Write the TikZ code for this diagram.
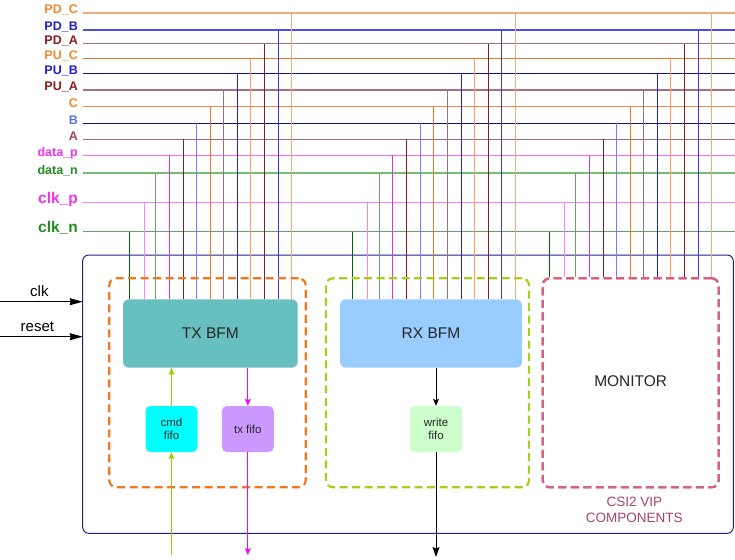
\documentclass[tikz,border=0pt]{standalone}
\usepackage{fontspec}
\setmainfont{Liberation Sans}
\usetikzlibrary{arrows.meta}
% label colours
\definecolor{lOr}{HTML}{EE8833}
\definecolor{lBl}{HTML}{2020CC}
\definecolor{lBlB}{HTML}{5577DD}
\definecolor{lRd}{HTML}{8B1A1A}
\definecolor{lA}{HTML}{994466}
\definecolor{lMg}{HTML}{EE33EE}
\definecolor{lGr}{HTML}{228B22}
% horizontal line colours
\definecolor{hPDC}{HTML}{F5A878}
\definecolor{hPDB}{HTML}{4D4DE0}
\definecolor{hPDA}{HTML}{A87080}
\definecolor{hPUC}{HTML}{E87830}
\definecolor{hPUB}{HTML}{10109A}
\definecolor{hPUA}{HTML}{A87080}
\definecolor{hC}{HTML}{F08848}
\definecolor{hB}{HTML}{10109A}
\definecolor{hA}{HTML}{A06878}
\definecolor{hdp}{HTML}{FF66FF}
\definecolor{hdn}{HTML}{77BB77}
\definecolor{hcp}{HTML}{FF80FF}
\definecolor{hcn}{HTML}{6AA06A}
% vertical line colours
\definecolor{vPDC}{HTML}{F5A878}
\definecolor{vPDB}{HTML}{3838E8}
\definecolor{vPDA}{HTML}{802020}
\definecolor{vPUC}{HTML}{FFA060}
\definecolor{vPUB}{HTML}{2020E0}
\definecolor{vPUA}{HTML}{A07070}
\definecolor{vC}{HTML}{EE7722}
\definecolor{vB}{HTML}{7878FF}
\definecolor{vA}{HTML}{802020}
\definecolor{vdp}{HTML}{DD33DD}
\definecolor{vdn}{HTML}{6AA06A}
\definecolor{vcp}{HTML}{FF80FF}
\definecolor{vcn}{HTML}{006400}
% boxes
\definecolor{txfill}{HTML}{67BFBF}
\definecolor{rxfill}{HTML}{99CCFF}
\definecolor{cmdfill}{HTML}{00FFFF}
\definecolor{txffill}{HTML}{CC99FF}
\definecolor{wrfill}{HTML}{CCFFCC}
\definecolor{txdash}{HTML}{F07820}
\definecolor{rxdash}{HTML}{A8CC20}
\definecolor{mondash}{HTML}{D86080}
\definecolor{outer}{HTML}{20208A}
\definecolor{vip}{HTML}{A8436E}
\definecolor{cmdarrow}{HTML}{99CC00}
\definecolor{txfarrow}{HTML}{FF00FF}
\tikzset{
  siglabel/.style={anchor=base east, inner sep=0pt},
  sigline/.style={line width=1.2pt},
  vline/.style={line width=1pt},
  bfm/.style={rectangle, rounded corners=6pt, draw=none, inner sep=0pt,
    font=\fontsize{15.5}{18}\selectfont, text=black!85},
  fifo/.style={rectangle, rounded corners=5pt, draw=none, inner sep=0pt,
    minimum width=52pt, minimum height=46pt, align=center,
    font=\fontsize{11.5}{14}\selectfont, text=black!85},
  group/.style={rectangle, rounded corners=7pt, line width=2.2pt,
    dash pattern=on 8pt off 4.5pt, inner sep=0pt, minimum height=209pt},
  smallarrow/.style={-{Stealth[length=7pt,width=6pt,inset=1.5pt]}, line width=1pt},
  inarrow/.style={-{Stealth[length=13pt,width=7pt,inset=1pt]}, line width=1pt, black},
}
\begin{document}
\begin{tikzpicture}[x=1pt,y=-1pt]
\useasboundingbox (0,0) rectangle (735,559);

% outer box
\draw[outer, line width=1pt, rounded corners=6pt] (82.7,255) rectangle (733.3,533.3);

% signal lines and labels
\foreach \id/\txt/\y/\lc/\hc/\fs in {
  PDC/PD\_C/13/lOr/hPDC/12.5,
  PDB/PD\_B/30/lBl/hPDB/12.5,
  PDA/PD\_A/43.6/lRd/hPDA/12.5,
  PUC/PU\_C/58.6/lOr/hPUC/12.5,
  PUB/PU\_B/73.2/lBl/hPUB/12.5,
  PUA/PU\_A/90/lRd/hPUA/12.5,
  C/C/106.6/lOr/hC/12.5,
  B/B/123.2/lBlB/hB/12.5,
  A/A/139.2/lA/hA/12.5,
  dp/data\_p/155.2/lMg/hdp/12.5,
  dn/data\_n/173/lGr/hdn/12.5,
  cp/clk\_p/202.8/lMg/hcp/15.5,
  cn/clk\_n/231.8/lGr/hcn/15.5}
{
  \node[siglabel, text=\lc, font=\bfseries\fontsize{\fs}{\fs}\selectfont] (lab-\id) at (78,\y+1) {\txt};
  \coordinate (s-\id) at (83,\y);
  \coordinate (e-\id) at (735,\y);
  \draw[sigline, \hc] (s-\id) -- (e-\id);
}

% blocks
\node[bfm, fill=txfill, minimum width=174.7pt, minimum height=68.4pt] (tx) at (210.35,333.5) {TX BFM};
\node[bfm, fill=rxfill, minimum width=182pt, minimum height=68.4pt] (rx) at (431,333.5) {RX BFM};
\node[fifo, fill=cmdfill] (cmd) at (171.5,429) {cmd\\[-1pt]fifo};
\node[fifo, fill=txffill] (txf) at (247.85,429) {tx fifo};
\node[fifo, fill=wrfill] (wr) at (436,429) {write\\[-1pt]fifo};

\node[group, draw=mondash, minimum width=176pt] (mon) at (630.7,382.8) {};
\node[font=\fontsize{15.5}{18}\selectfont, text=black!85] (montxt) at (630.7,381.5) {MONITOR};

% vertical taps
\foreach \id/\y/\o/\vc in {
  PDC/13/162.5/vPDC,
  PDB/30/148.7/vPDB,
  PDA/43.6/135.3/vPDA,
  PUC/58.6/121.6/vPUC,
  PUB/73.2/108.3/vPUB,
  PUA/90/94.6/vPUA,
  C/106.6/81/vC,
  B/123.2/67.6/vB,
  A/139.2/54/vA,
  dp/155.2/40/vdp,
  dn/173/26.5/vdn,
  cp/202.8/14.7/vcp,
  cn/231.8/0/vcn}
{
  \coordinate (ttx-\id) at ({129.3+\o},\y);
  \coordinate (trx-\id) at ({352.7+\o},\y);
  \coordinate (tmo-\id) at ({549.3+\o},\y);
  \draw[vline, \vc] (ttx-\id) -- (ttx-\id |- tx.north);
  \draw[vline, \vc] (trx-\id) -- (trx-\id |- rx.north);
  \draw[vline, \vc] (tmo-\id) -- (tmo-\id |- mon.north);
}

% dashed groups
\node[group, draw=txdash, minimum width=196.4pt] (txg) at (207.5,382.8) {};
\node[group, draw=rxdash, minimum width=203pt] (rxg) at (427.5,382.8) {};
\node[group, draw=mondash, minimum width=176pt] at (630.7,382.8) {};

% CSI2 VIP label
\node[text=vip, align=center, font=\fontsize{13.5}{16.5}\selectfont, inner sep=0pt] (vipl) at (634.3,510) {CSI2 VIP\\COMPONENTS};

% internal arrows
\coordinate (cmdin) at (171.5,555);
\coordinate (txfout) at (247.85,555);
\coordinate (wrout) at (436,557);
\draw[smallarrow, cmdarrow] (cmdin) -- (cmd.south);
\draw[smallarrow, cmdarrow] (cmd.north) -- (cmd.north |- tx.south);
\draw[smallarrow, txfarrow] (txf.north |- tx.south) -- (txf.north);
\draw[smallarrow, txfarrow] (txf.south) -- (txfout);
\draw[smallarrow, black] (wr.north |- rx.south) -- (wr.north);
\draw[-{Stealth[length=10pt,width=7pt,inset=1.5pt]}, line width=1pt, black] (wr.south) -- (wrout);

% clk / reset inputs
\coordinate (clkin) at (0,301.7);
\coordinate (clkend) at (82.7,301.7);
\coordinate (rstin) at (0,336.7);
\coordinate (rstend) at (82.7,336.7);
\draw[inarrow] (clkin) -- node[above=1pt, font=\fontsize{15}{18}\selectfont, xshift=-2pt] (clklab) {clk} (clkend);
\draw[inarrow] (rstin) -- node[above=1pt, font=\fontsize{15}{18}\selectfont, xshift=-4pt] (rstlab) {reset} (rstend);
\end{tikzpicture}
\end{document}
